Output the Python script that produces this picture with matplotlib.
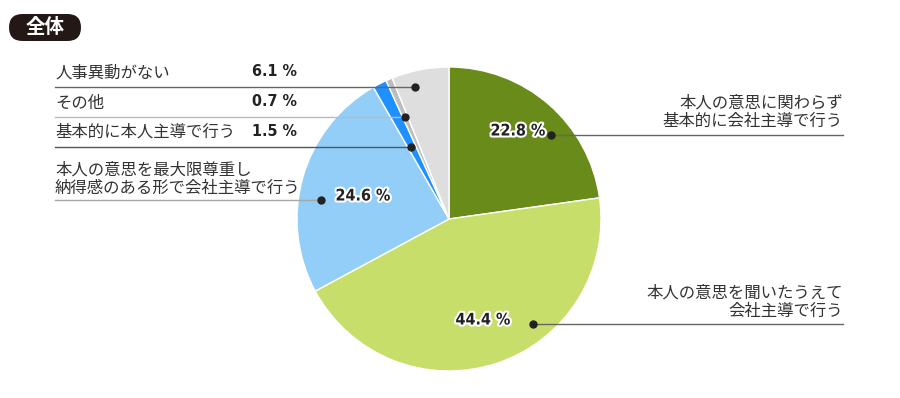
#!/usr/bin/env python3
"""
異動の決定方法（全体）の円グラフ。

Genera:
  out.png
"""

import matplotlib.pyplot as plt
import matplotlib.patheffects as pe
from matplotlib.patches import FancyBboxPatch

plt.rcParams['font.family'] = ['Noto Sans CJK JP', 'DejaVu Sans']

# ── Dati ─────────────────────────────────────────────────────────────────────
categorie = [
    '本人の意思に関わらず\n基本的に会社主導で行う',
    '本人の意思を聞いたうえて\n会社主導で行う',
    '本人の意思を最大限尊重し\n納得感のある形で会社主導で行う',
    '基本的に本人主導で行う',
    'その他',
    '人事異動がない',
]
valori = [22.8, 44.4, 24.6, 1.5, 0.7, 6.1]
colori = ['#688b1a', '#c8de6a', '#92cef7', '#1e90ff', '#bdbdbd', '#dedede']
titolo = '全体'

# ── Layout (pixel, origine in alto a sinistra) ───────────────────────────────
W, H = 900, 398
CENTRO = (449, 219)
RAGGIO = 152
# punto (x, y), riga della linea guida, testo etichetta, testo percentuale
PUNTI = [(551, 135), (533, 324), (321, 200), (411, 147), (405, 117), (415, 87)]
LINEA_X = [843, 843, 55, 55, 55, 55]
COL_LINEA = ['#666666', '#666666', '#a8a8a8', '#555555', '#bbbbbb', '#666666']
ETI_POS = [(843, 112), (843, 302), (55, 179), (55, 132), (55, 103), (55, 73)]
PCT_POS = [(518, 131), (483, 320), (363, 196), (275, 131), (275, 102), (275, 72)]
PCT_DENTRO = [True, True, True, False, False, False]


def Y(y):
    return H - y


def main():
    fig = plt.figure(figsize=(W / 100, H / 100), dpi=100)
    ax = fig.add_axes([0, 0, 1, 1])

    ax.pie(valori, colors=colori, startangle=90, counterclock=False,
           center=(CENTRO[0], Y(CENTRO[1])), radius=RAGGIO, frame=True,
           wedgeprops=dict(edgecolor='white', linewidth=1.0))
    ax.set_xlim(0, W)
    ax.set_ylim(0, H)
    ax.set_aspect('equal')
    ax.axis('off')

    # ── Etichette ────────────────────────────────────────────────────────────
    for i, (lab, v) in enumerate(zip(categorie, valori)):
        px, py = PUNTI[i]
        ax.plot([px, LINEA_X[i]], [Y(py), Y(py)], color=COL_LINEA[i],
                linewidth=1.0, zorder=3)
        ax.plot(px, Y(py), 'o', color='#222222', markersize=5, zorder=4)

        ex, ey = ETI_POS[i]
        ha = 'right' if ex > CENTRO[0] else 'left'
        ax.text(ex, Y(ey), lab, ha=ha, va='center', fontsize=11.8,
                color='#333333', linespacing=1.1, zorder=5)

        tx, ty = PCT_POS[i]
        t = ax.text(tx, Y(ty), f'{v:.1f} %', ha='center', va='center',
                    fontsize=11.5, fontweight='bold', color='#222222',
                    family='DejaVu Sans', fontstretch='condensed', zorder=6)
        if PCT_DENTRO[i]:
            t.set_path_effects([pe.withStroke(linewidth=3, foreground='white')])

    # ── Titolo a pillola ─────────────────────────────────────────────────────
    badge = FancyBboxPatch((9, Y(41)), 72, 27,
                           boxstyle='round,pad=0,rounding_size=13.5',
                           facecolor='#231815', edgecolor='none', zorder=5)
    ax.add_patch(badge)
    ax.text(45, Y(27.5), titolo, ha='center', va='center', fontsize=14,
            fontweight='bold', color='white', zorder=6)

    fig.savefig('out.png', dpi=100)


if __name__ == '__main__':
    main()
